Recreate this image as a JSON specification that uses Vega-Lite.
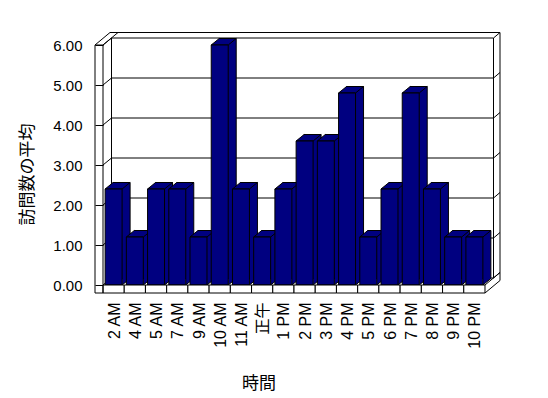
{
  "$schema": "https://vega.github.io/schema/vega-lite/v6.json",
  "width": 382,
  "height": 240,
  "autosize": {"type": "none"},
  "padding": {"left": 103, "top": 45, "right": 63, "bottom": 113},
  "background": "white",
  "config": {
    "view": {"stroke": null},
    "numberFormat": ".2f",
    "axis": {"grid": false, "domain": false, "tickColor": "black", "labelColor": "black", "titleColor": "black", "titleFontWeight": "normal", "titleFont": "Noto Sans CJK JP", "titleFontSize": 17, "labelFontSize": 15, "zindex": 1},
    "axisX": {"ticks": false, "tickSize": 0, "labelAngle": 270, "labelAlign": "right", "labelBaseline": "middle", "labelPadding": 17, "labelFontSize": 16, "labelOffset": 1, "labelFont": "Liberation Sans, Noto Sans CJK JP", "labelOverlap": false, "titleX": 155.5, "titleY": 98, "titleAlign": "center", "titleBaseline": "middle"},
    "axisY": {"ticks": true, "tickSize": 8, "tickWidth": 1, "tickCount": 6, "labelPadding": 13, "labelFont": "Liberation Sans", "titleX": -75.5, "titleY": 129, "titleAngle": 270, "titleAlign": "center", "titleBaseline": "middle"}
  },
  "datasets": {
    "bars": [
      {"hour": "2 AM", "avg": 2.4},
      {"hour": "4 AM", "avg": 1.2},
      {"hour": "5 AM", "avg": 2.4},
      {"hour": "7 AM", "avg": 2.4},
      {"hour": "9 AM", "avg": 1.2},
      {"hour": "10 AM", "avg": 6.0},
      {"hour": "11 AM", "avg": 2.4},
      {"hour": "正午", "avg": 1.2},
      {"hour": "1 PM", "avg": 2.4},
      {"hour": "2 PM", "avg": 3.6},
      {"hour": "3 PM", "avg": 3.6},
      {"hour": "4 PM", "avg": 4.8},
      {"hour": "5 PM", "avg": 1.2},
      {"hour": "6 PM", "avg": 2.4},
      {"hour": "7 PM", "avg": 4.8},
      {"hour": "8 PM", "avg": 2.4},
      {"hour": "9 PM", "avg": 1.2},
      {"hour": "10 PM", "avg": 1.2}
    ],
    "ticks": [{"v": 0}, {"v": 1}, {"v": 2}, {"v": 3}, {"v": 4}, {"v": 5}, {"v": 6}],
    "one": [{"id": 1}]
  },
  "layer": [
    {
      "data": {"name": "ticks"},
      "mark": {"type": "point", "shape": "M-10.61,0L-2.11,-7L379.89,-7L386.39,-12.5", "size": 4, "filled": false, "stroke": "black", "strokeWidth": 1, "opacity": 1},
      "encoding": {
        "x": {"datum": "2 AM", "type": "nominal", "title": "時間", "scale": {"domain": ["2 AM","4 AM","5 AM","7 AM","9 AM","10 AM","11 AM","正午","1 PM","2 PM","3 PM","4 PM","5 PM","6 PM","7 PM","8 PM","9 PM","10 PM"], "paddingInner": 0.2, "paddingOuter": 0.1}},
        "y": {"field": "v", "type": "quantitative", "title": "訪問数の平均", "scale": {"domain": [0, 6], "nice": false}}
      }
    },
    {
      "data": {"name": "one"},
      "mark": {"type": "point", "shape": "M-18.61,0L-3.61,-12.5L386.39,-12.5L386.39,235.5L371.39,248M-10.61,0L4.39,-12.5M-2.11,-7L-2.11,233M379.89,-7L379.89,233M371.39,240L386.39,227.5", "size": 4, "filled": false, "stroke": "black", "strokeWidth": 1, "opacity": 1},
      "encoding": {
        "x": {"datum": "2 AM", "type": "nominal", "title": "時間", "scale": {"domain": ["2 AM","4 AM","5 AM","7 AM","9 AM","10 AM","11 AM","正午","1 PM","2 PM","3 PM","4 PM","5 PM","6 PM","7 PM","8 PM","9 PM","10 PM"], "paddingInner": 0.2, "paddingOuter": 0.1}},
        "y": {"datum": 6, "type": "quantitative", "title": "訪問数の平均", "scale": {"domain": [0, 6], "nice": false}}
      }
    },
    {
      "data": {"name": "bars"},
      "mark": {"type": "bar", "fill": "#000080", "stroke": "black", "strokeWidth": 1, "opacity": 1, "xOffset": 8, "yOffset": -6.5, "y2Offset": -6.5},
      "encoding": {
        "x": {"field": "hour", "type": "nominal", "title": "時間", "scale": {"domain": ["2 AM","4 AM","5 AM","7 AM","9 AM","10 AM","11 AM","正午","1 PM","2 PM","3 PM","4 PM","5 PM","6 PM","7 PM","8 PM","9 PM","10 PM"], "paddingInner": 0.2, "paddingOuter": 0.1}},
        "y": {"field": "avg", "type": "quantitative", "title": "訪問数の平均", "scale": {"domain": [0, 6], "nice": false}}
      }
    },
    {
      "data": {"name": "bars"},
      "mark": {"type": "point", "shape": "M-8.49,0L8.49,0L16.49,-6.5L-0.49,-6.5Z", "size": 4, "filled": true, "fill": "#000080", "stroke": "black", "strokeWidth": 1, "opacity": 1},
      "encoding": {
        "x": {"field": "hour", "type": "nominal", "title": "時間", "scale": {"domain": ["2 AM","4 AM","5 AM","7 AM","9 AM","10 AM","11 AM","正午","1 PM","2 PM","3 PM","4 PM","5 PM","6 PM","7 PM","8 PM","9 PM","10 PM"], "paddingInner": 0.2, "paddingOuter": 0.1}},
        "y": {"field": "avg", "type": "quantitative", "title": "訪問数の平均", "scale": {"domain": [0, 6], "nice": false}}
      }
    },
    {
      "data": {"name": "bars"},
      "mark": {"type": "point", "shape": "M8.49,0L16.49,-6.5L16.49,-7.4L8.49,-7.4Z", "size": 4, "filled": true, "fill": "#000080", "strokeWidth": 0, "strokeOpacity": 0, "opacity": 1},
      "encoding": {
        "x": {"field": "hour", "type": "nominal", "title": "時間", "scale": {"domain": ["2 AM","4 AM","5 AM","7 AM","9 AM","10 AM","11 AM","正午","1 PM","2 PM","3 PM","4 PM","5 PM","6 PM","7 PM","8 PM","9 PM","10 PM"], "paddingInner": 0.2, "paddingOuter": 0.1}},
        "y": {"datum": 0, "type": "quantitative", "title": "訪問数の平均", "scale": {"domain": [0, 6], "nice": false}}
      }
    },
    {
      "data": {"name": "bars"},
      "mark": {"type": "point", "shape": "M8.49,0L16.49,-6.5", "size": 4, "filled": false, "stroke": "black", "strokeWidth": 1, "opacity": 1},
      "encoding": {
        "x": {"field": "hour", "type": "nominal", "title": "時間", "scale": {"domain": ["2 AM","4 AM","5 AM","7 AM","9 AM","10 AM","11 AM","正午","1 PM","2 PM","3 PM","4 PM","5 PM","6 PM","7 PM","8 PM","9 PM","10 PM"], "paddingInner": 0.2, "paddingOuter": 0.1}},
        "y": {"datum": 0, "type": "quantitative", "title": "訪問数の平均", "scale": {"domain": [0, 6], "nice": false}}
      }
    },
    {
      "data": {"name": "bars"},
      "mark": {"type": "bar", "fill": "#000080", "stroke": "black", "strokeWidth": 1, "opacity": 1},
      "encoding": {
        "x": {"field": "hour", "type": "nominal", "title": "時間", "scale": {"domain": ["2 AM","4 AM","5 AM","7 AM","9 AM","10 AM","11 AM","正午","1 PM","2 PM","3 PM","4 PM","5 PM","6 PM","7 PM","8 PM","9 PM","10 PM"], "paddingInner": 0.2, "paddingOuter": 0.1}},
        "y": {"field": "avg", "type": "quantitative", "title": "訪問数の平均", "scale": {"domain": [0, 6], "nice": false}}
      }
    },
    {
      "data": {"name": "bars"},
      "mark": {"type": "point", "shape": "M-10.61,0L10.61,0L10.61,8L-10.61,8Z", "size": 4, "filled": true, "fill": "white", "stroke": "black", "strokeWidth": 1, "opacity": 1},
      "encoding": {
        "x": {"field": "hour", "type": "nominal", "title": "時間", "scale": {"domain": ["2 AM","4 AM","5 AM","7 AM","9 AM","10 AM","11 AM","正午","1 PM","2 PM","3 PM","4 PM","5 PM","6 PM","7 PM","8 PM","9 PM","10 PM"], "paddingInner": 0.2, "paddingOuter": 0.1}},
        "y": {"datum": 0, "type": "quantitative", "title": "訪問数の平均", "scale": {"domain": [0, 6], "nice": false}}
      }
    },
    {
      "data": {"name": "one"},
      "mark": {"type": "point", "shape": "M-18.61,0L-10.61,0L-10.61,248L-18.61,248Z", "size": 4, "filled": false, "stroke": "black", "strokeWidth": 1, "opacity": 1},
      "encoding": {
        "x": {"datum": "2 AM", "type": "nominal", "title": "時間", "scale": {"domain": ["2 AM","4 AM","5 AM","7 AM","9 AM","10 AM","11 AM","正午","1 PM","2 PM","3 PM","4 PM","5 PM","6 PM","7 PM","8 PM","9 PM","10 PM"], "paddingInner": 0.2, "paddingOuter": 0.1}},
        "y": {"datum": 6, "type": "quantitative", "title": "訪問数の平均", "scale": {"domain": [0, 6], "nice": false}}
      }
    }
  ]
}
